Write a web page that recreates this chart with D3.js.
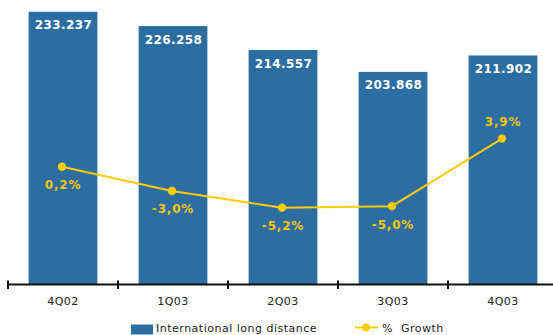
<!DOCTYPE html>
<html>
<head>
<meta charset="utf-8">
<script src="https://cdn.jsdelivr.net/npm/d3@7"></script>
<style>
  html, body { margin: 0; padding: 0; background: #fff; }
  svg { display: block; }
</style>
</head>
<body>
<div id="chart"></div>
<script>
// Quarterly traffic (thousands of minutes) and year-on-year growth
const quarters = ["4Q02", "1Q03", "2Q03", "3Q03", "4Q03"];
const traffic = [233.237, 226.258, 214.557, 203.868, 211.902];
const growth = [0.2, -3.0, -5.2, -5.0, 3.9];
const trafficLabels = ["233.237", "226.258", "214.557", "203.868", "211.902"];
const growthLabels = ["0,2%", "-3,0%", "-5,2%", "-5,0%", "3,9%"];
const legendLabels = ["International long distance", "%  Growth"];

const W = 553, H = 335;
const baseY = 284.5;
const barColor = "#2c6ea1";
const lineColor = "#ffcc00";
const labelYellow = "#f7c600";

const svg = d3.select("#chart").append("svg")
  .attr("width", W).attr("height", H);

const x = d3.scaleBand().domain(quarters).range([8, 558]).padding(0);
const barW = x.bandwidth() * 0.625;
const yBar = d3.scaleLinear().domain([100, 239]).range([baseY, 0]);
const yPct = d3.scaleLinear().domain([-15, 15]).range([282, 54.4]);

const data = quarters.map((q, i) => ({
  q, v: traffic[i], g: growth[i], vl: trafficLabels[i], gl: growthLabels[i]
}));

// Bars
svg.append("g").selectAll("rect").data(data).join("rect")
  .attr("x", d => x(d.q) + x.bandwidth() / 2 - barW / 2)
  .attr("y", d => yBar(d.v))
  .attr("width", barW)
  .attr("height", d => baseY - yBar(d.v))
  .attr("fill", barColor);

// Value labels inside the top of each bar
svg.append("g").selectAll("text").data(data).join("text")
  .attr("x", d => x(d.q) + x.bandwidth() / 2 + 0.5)
  .attr("y", d => yBar(d.v) + 17.5)
  .attr("text-anchor", "middle")
  .attr("fill", "#ffffff")
  .attr("font-family", "DejaVu Sans, Verdana, sans-serif")
  .attr("font-weight", "bold")
  .attr("font-size", 12)
  .attr("letter-spacing", 0.4)
  .text(d => d.vl);

// Growth line
const cx = d => x(d.q) + x.bandwidth() / 2 - 1;
svg.append("path")
  .datum(data)
  .attr("fill", "none")
  .attr("stroke", lineColor)
  .attr("stroke-width", 2)
  .attr("d", d3.line().x(cx).y(d => yPct(d.g)));

svg.append("g").selectAll("circle").data(data).join("circle")
  .attr("cx", cx)
  .attr("cy", d => yPct(d.g))
  .attr("r", 4.2)
  .attr("fill", lineColor);

// Growth labels: below the point, above for the last one
svg.append("g").selectAll("text").data(data).join("text")
  .attr("x", d => cx(d) + 1)
  .attr("y", (d, i) => i === data.length - 1 ? yPct(d.g) - 12.5 : yPct(d.g) + 22.5)
  .attr("text-anchor", "middle")
  .attr("fill", labelYellow)
  .attr("font-family", "DejaVu Sans, Verdana, sans-serif")
  .attr("font-weight", "bold")
  .attr("font-size", 12)
  .attr("letter-spacing", 0.8)
  .text(d => d.gl);

// Category axis
const axis = svg.append("g")
  .attr("transform", `translate(0,${baseY})`)
  .call(d3.axisBottom(x).tickSize(0).tickPadding(13));
axis.select(".domain").remove();
axis.selectAll("text")
  .attr("font-family", "DejaVu Sans, Verdana, sans-serif")
  .attr("font-size", 11)
  .attr("letter-spacing", 0.5)
  .attr("fill", "#222");

svg.append("line")
  .attr("x1", 8).attr("x2", W)
  .attr("y1", baseY).attr("y2", baseY)
  .attr("stroke", "#111").attr("stroke-width", 2);

const bounds = quarters.map(q => x(q)).concat([x.range()[1]]);
svg.append("g").selectAll("line").data(bounds).join("line")
  .attr("x1", d => d).attr("x2", d => d)
  .attr("y1", baseY - 4).attr("y2", baseY + 4.5)
  .attr("stroke", "#111").attr("stroke-width", 2);

// Legend
const lg = svg.append("g")
  .attr("font-family", "DejaVu Sans, Verdana, sans-serif")
  .attr("font-size", 11)
  .attr("letter-spacing", 0.5)
  .attr("fill", "#222");
lg.append("rect")
  .attr("x", 131).attr("y", 324.5).attr("width", 22).attr("height", 10)
  .attr("fill", barColor);
lg.append("text").attr("x", 156).attr("y", 332).text(legendLabels[0]);
lg.append("line")
  .attr("x1", 355).attr("x2", 378).attr("y1", 327.5).attr("y2", 327.5)
  .attr("stroke", lineColor).attr("stroke-width", 2);
lg.append("circle").attr("cx", 366).attr("cy", 327.5).attr("r", 4).attr("fill", lineColor);
lg.append("text").attr("x", 382).attr("y", 332)
  .attr("xml:space", "preserve").style("white-space", "pre")
  .text(legendLabels[1]);
</script>
</body>
</html>
